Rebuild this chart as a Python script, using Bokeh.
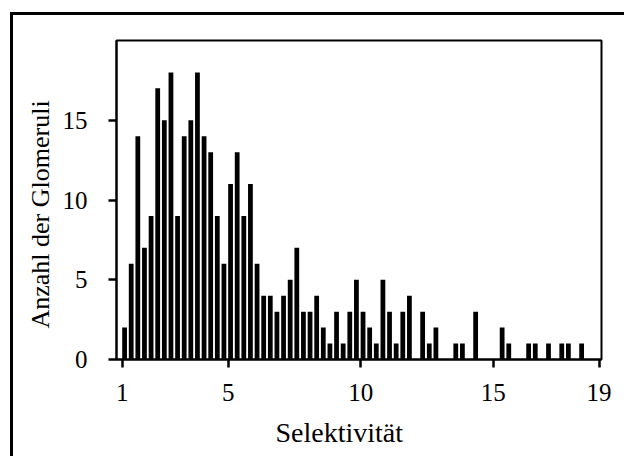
import numpy as np
from bokeh.plotting import figure
from bokeh.models import FixedTicker, Range1d, ColumnDataSource, Title
from bokeh.embed import file_html
from bokeh.resources import INLINE

# Histogram data: bins of width 0.25 starting at 1
bin_width = 0.25
bin_left = np.arange(1, 19, bin_width)
counts = [2, 6, 14, 7, 9, 17, 15, 18, 9, 14,
          15, 18, 14, 13, 9, 6, 11, 13, 9, 11,
          6, 4, 4, 3, 4, 5, 7, 3, 3, 4,
          2, 1, 3, 1, 3, 5, 3, 2, 1, 5,
          3, 1, 3, 4, 0, 3, 1, 2, 0, 0,
          1, 1, 0, 3, 0, 0, 0, 2, 1, 0,
          0, 1, 1, 0, 1, 0, 1, 1, 0, 1,
          0, 0]
x_ticks = [1, 5, 10, 15, 19]
y_ticks = [0, 5, 10, 15]
x_label = "Selektivität"
y_label = "Anzahl der Glomeruli"

bar_w = 0.18
src = ColumnDataSource(dict(x=bin_left + bar_w / 2, top=counts))

FONT = "Liberation Serif"

# outer frame drawn as CSS border on the figure host (margin 10/12, border 3)
OX, OY = 13, 15
H = 459 - OY
p = figure(width=627 - OX, height=H, output_backend="svg", toolbar_location=None,
           x_range=Range1d(0.785, 19.09), y_range=Range1d(0, 20),
           min_border_left=116 - OX, min_border_right=26,
           min_border_top=40 - OY, min_border_bottom=H - (359 - OY))
p.margin = (12, 0, 0, 10)
p.styles = {"border-left": "3px solid black", "border-top": "3px solid black",
            "vertical-align": "top"}

p.vbar(x="x", top="top", width=bar_w, bottom=0, source=src,
       fill_color="black", line_color=None)

p.grid.visible = False
p.outline_line_color = "black"
p.outline_line_width = 2
p.background_fill_color = "white"
p.border_fill_color = "white"

for ax, ticks in ((p.xaxis[0], x_ticks), (p.yaxis[0], y_ticks)):
    ax.ticker = FixedTicker(ticks=ticks)
    ax.major_tick_in = 0
    ax.major_tick_out = 8
    ax.major_tick_line_width = 2.5
    ax.major_tick_line_color = "black"
    ax.minor_tick_line_color = None
    ax.axis_line_color = "black"
    ax.axis_line_width = 2
    ax.major_label_text_font = FONT
    ax.major_label_text_font_size = "25px"
    ax.major_label_text_color = "black"

p.xaxis.major_label_standoff = 16
p.yaxis.major_label_standoff = 21

xt = Title(text=x_label, align="left", offset=159, standoff=22,
           text_font=FONT, text_font_size="28px", text_font_style="normal",
           text_color="black", text_line_height=0.8)
yt = Title(text=y_label, align="left", offset=31, standoff=10,
           text_font=FONT, text_font_size="26px", text_font_style="normal",
           text_color="black")
p.add_layout(xt, "below")
p.add_layout(yt, "left")

open("out.html", "w").write(file_html(p, INLINE))
